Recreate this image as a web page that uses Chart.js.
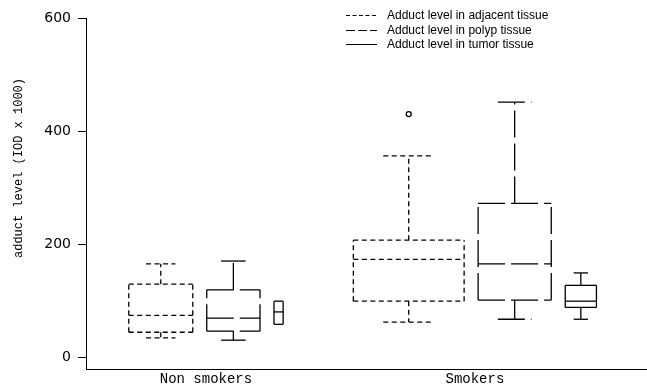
<!DOCTYPE html>
<html>
<head>
<meta charset="utf-8">
<script src="https://cdn.jsdelivr.net/npm/chart.js@4.4.0/dist/chart.umd.min.js"></script>
<style>
  html, body { margin: 0; padding: 0; background: #fff; overflow: hidden; }
  #wrap { width: 647px; height: 387px; }
</style>
</head>
<body>
<div id="wrap"><canvas id="boxChart"></canvas></div>
<script>
// categories and series
const groups = ['Non smokers', 'Smokers'];
const series = ['Adduct level in adjacent tissue', 'Adduct level in polyp tissue', 'Adduct level in tumor tissue'];

// [min, q1, median, q3, max] for each group
const adjacentStats = [[34, 44, 74, 129, 165], [62, 99, 173, 207, 356]];
const polypStats = [[30, 46, 69, 119, 170], [67, 101, 165, 272, 451]];
const tumorStats = [[58, 58, 80, 99, 99], [67, 88, 99, 127, 149]];
const outlierValues = [null, 430]; // adjacent tissue, per group

const yTicks = [0, 200, 400, 600];

// layout (x axis units)
const groupX = [2, 7];
const boxWidths = [[1.19, 0.99, 0.17], [2.06, 1.36, 0.58]];
const boxGap = 0.26;
const dashes = [[5, 3.5], [27, 6], []];

const allStats = [adjacentStats, polypStats, tumorStats];

// centre of each box on the x axis
function boxCentre(g, s) {
    const w = boxWidths[g];
    const total = w.reduce((a, b) => a + b, 0) + boxGap * (w.length - 1);
    let left = groupX[g] - total / 2;
    for (let i = 0; i < s; i++) left += w[i] + boxGap;
    return left + w[s] / 2;
}

const outlierPoints = [];
outlierValues.forEach((v, g) => {
    if (v !== null) outlierPoints.push({ x: boxCentre(g, 0), y: v });
});

const boxPlugin = {
    id: 'boxes',
    beforeDatasetsDraw(chart) {
        const ctx = chart.ctx;
        const xs = chart.scales.x;
        const ys = chart.scales.y;
        const line = (x1, y1, x2, y2) => {
            ctx.beginPath();
            ctx.moveTo(x1, y1);
            ctx.lineTo(x2, y2);
            ctx.stroke();
        };
        ctx.save();
        ctx.strokeStyle = '#000';
        ctx.lineWidth = 1.3;
        allStats.forEach((stats, s) => {
            ctx.setLineDash(dashes[s]);
            stats.forEach((st, g) => {
                const c = boxCentre(g, s);
                const half = boxWidths[g][s] / 2;
                const x0 = xs.getPixelForValue(c - half);
                const x1 = xs.getPixelForValue(c + half);
                const xc = xs.getPixelForValue(c);
                const capHalf = (x1 - x0) * 0.23;
                const [mn, q1, md, q3, mx] = st.map(v => ys.getPixelForValue(v));
                line(x0, q3, x1, q3);
                line(x0, q1, x1, q1);
                line(x0, q1, x0, q3);
                line(x1, q1, x1, q3);
                line(x0, md, x1, md);
                if (st[4] > st[3]) {
                    line(xc, q3, xc, mx);
                    line(xc - capHalf, mx, xc + capHalf, mx);
                }
                if (st[0] < st[1]) {
                    line(xc, q1, xc, mn);
                    line(xc - capHalf, mn, xc + capHalf, mn);
                }
            });
        });
        ctx.restore();
    },
    afterDraw(chart) {
        const ctx = chart.ctx;
        ctx.save();
        // y axis title
        ctx.fillStyle = '#000';
        ctx.font = '12px "Liberation Mono"';
        ctx.textAlign = 'center';
        ctx.textBaseline = 'middle';
        ctx.translate(19, 168);
        ctx.rotate(-Math.PI / 2);
        ctx.fillText('adduct level (IOD x 1000)', 0, 0);
        ctx.restore();

        // legend
        ctx.save();
        ctx.strokeStyle = '#000';
        ctx.fillStyle = '#000';
        ctx.lineWidth = 1;
        ctx.font = '12px "Liberation Sans", Arial, sans-serif';
        ctx.textBaseline = 'middle';
        const legendDash = [[4, 2.5], [9, 3], []];
        series.forEach((name, i) => {
            const y = Math.round(15 + i * 14.5) + 0.5;
            ctx.setLineDash(legendDash[i]);
            ctx.beginPath();
            ctx.moveTo(346, y);
            ctx.lineTo(377, y);
            ctx.stroke();
            ctx.fillText(name, 387, y);
        });
        ctx.restore();
    }
};

new Chart(document.getElementById('boxChart').getContext('2d'), {
    type: 'scatter',
    data: {
        datasets: [{
            label: 'outliers',
            data: outlierPoints,
            pointRadius: 2.5,
            pointBorderWidth: 1.3,
            pointBorderColor: '#000',
            pointBackgroundColor: '#fff'
        }]
    },
    options: {
        responsive: true,
        maintainAspectRatio: false,
        animation: false,
        layout: { autoPadding: false, padding: { top: 18, right: 0, bottom: 0, left: 0 } },
        plugins: {
            legend: { display: false },
            tooltip: { enabled: false }
        },
        scales: {
            x: {
                type: 'linear',
                min: -0.23,
                max: 10.2,
                afterBuildTicks: function(scale) {
                    scale.ticks = groupX.map(v => ({ value: v }));
                },
                afterFit: function(scale) {
                    scale.height = 18;
                },
                ticks: {
                    callback: function(value) { return groups[groupX.indexOf(value)]; },
                    color: '#000',
                    font: { family: '"Liberation Mono"', size: 14 },
                    padding: 2,
                    maxRotation: 0,
                    autoSkip: false
                },
                grid: { display: false, drawTicks: false },
                border: { display: true, color: '#000', width: 1 }
            },
            y: {
                min: -21,
                max: 600,
                afterBuildTicks: function(scale) {
                    scale.ticks = yTicks.map(v => ({ value: v }));
                },
                afterFit: function(scale) { scale.width = 86; },
                ticks: {
                    color: '#000',
                    font: { family: '"DejaVu Sans"', size: 14 },
                    padding: 7
                },
                grid: { drawOnChartArea: false, tickLength: 8, color: '#000' },
                border: { display: true, color: '#000', width: 1 }
            }
        }
    },
    plugins: [boxPlugin]
});
</script>
</body>
</html>
